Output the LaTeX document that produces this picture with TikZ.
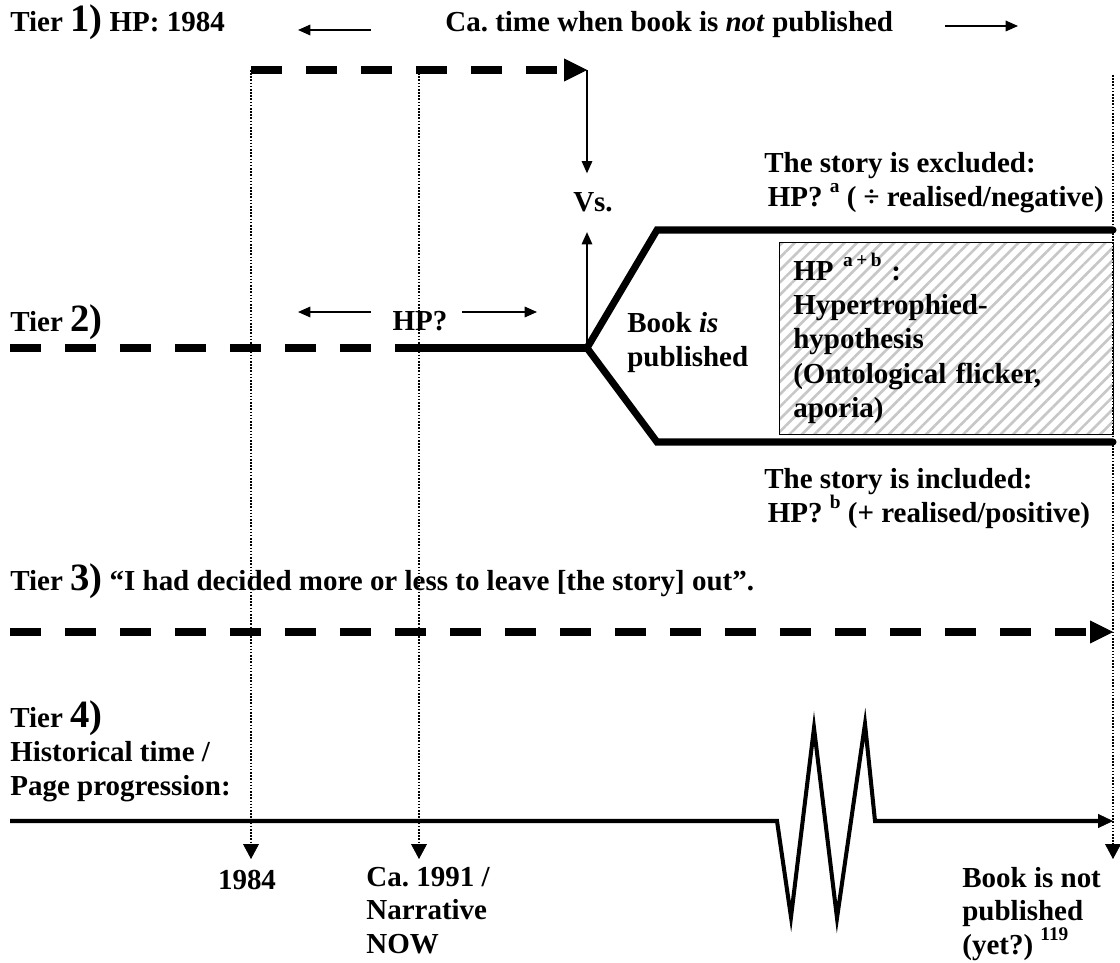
\documentclass[tikz,border=0pt]{standalone}
\usepackage{fontspec}
\setmainfont{Liberation Serif}
\usetikzlibrary{arrows.meta,patterns.meta}
\frenchspacing
\newcommand{\tiernum}[1]{{\fontsize{22}{22}\selectfont #1)}}
\newcommand{\supx}[1]{\raisebox{0.48em}{\fontsize{11}{11}\selectfont #1}}
\begin{document}
\begin{tikzpicture}[x=0.02cm, y=-0.02cm, >={Triangle[length=7pt,width=6pt]}, line join=miter,
	txt/.style={font=\fontsize{16.5}{19.5}\selectfont\bfseries, inner sep=0pt, align=left},
	low/.style={font=\fontsize{16.5}{19}\selectfont\bfseries},
	fine/.style={line width=0.9pt},
	dotline/.style={line width=1pt, dash pattern=on 0.9pt off 0.9pt, -{Triangle[length=8.5pt,width=9pt,line width=0.4pt]}},
	bigdash/.style={line width=4pt, dash pattern=on 17.6pt off 13.7pt},
	bighead/.style={-{Triangle[length=13pt,width=13pt,line width=0.4pt]}},
	branch/.style={line width=4pt, line cap=round},
	hatchbox/.style={draw, line width=0.8pt, pattern={Lines[angle=45,distance=5pt,line width=1.5pt]}, pattern color=black!22}]
	\useasboundingbox (0,0) rectangle (1120,963);
	% Tier 1
	\node[txt, anchor=base west] (t1) at (10,32) {Tier \tiernum{1} HP: 1984};
	\node[txt, anchor=base west] (notpub) at (445,32) {Ca. time when book is \textit{not} published};
	\coordinate (t1l) at (371,30); \coordinate (t1le) at (298,30);
	\coordinate (t1r) at (945,26); \coordinate (t1re) at (1018,26);
	\draw[fine,->] (t1l) -- (t1le);
	\draw[fine,->] (t1r) -- (t1re);
	\coordinate (a84) at (251,70); \coordinate (a91) at (419,70); \coordinate (avs) at (587,70);
	\draw[bigdash,bighead] (a84) -- (avs);
	\node[txt, anchor=base, inner ysep=11pt] (vs) at (593,212) {Vs.};
	\draw[fine,->] (avs) -- (avs |- vs.north);
	% Tier 2
	\node[txt, anchor=base west] (t2) at (10,331) {Tier \tiernum{2}};
	\node[txt, anchor=base] (hpq) at (420,330) {HP?};
	\coordinate (t2l) at (371,312); \coordinate (t2le) at (298,312);
	\coordinate (t2r) at (462,312); \coordinate (t2re) at (537,312);
	\draw[fine,->] (t2l) -- (t2le);
	\draw[fine,->] (t2r) -- (t2re);
	\coordinate (s2) at (10,348); \coordinate (n2) at (419,348); \coordinate (jn) at (587,348);
	\draw[bigdash] (s2) -- (n2);
	\draw[line width=4pt] (n2) -- (jn);
	\draw[fine,->] (jn) -- (jn |- vs.south);
	\coordinate (bu) at (657,230); \coordinate (bue) at (1113,230);
	\coordinate (bd) at (657,442); \coordinate (bde) at (1113,442);
	\draw[branch] (bue) -- (bu) -- (jn) -- (bd) -- (bde);
	\node[txt, anchor=north west] (pub) at (627,312) {Book \textit{is}\\published};
	\node[txt, hatchbox, anchor=north west, text width=6.12cm, inner xsep=0.28cm, minimum height=3.84cm] (hyp) at (778,241)
		{HP \supx{a\kern2pt+\kern2pt b} :\\Hypertrophied-\\hypothesis\\(Ontological flicker,\\aporia)};
	\node[txt, anchor=north west] (excl) at (764,152) {The story is excluded:\\\hspace{2pt}HP? \supx{a} ( ÷ realised/negative)};
	\node[txt, anchor=north west] (incl) at (764,468) {The story is included:\\\hspace{2pt}HP? \supx{b} (+ realised/positive)};
	% Tier 3
	\node[txt, anchor=base west] (t3) at (10,590) {Tier \tiernum{3} “I had decided more or less to leave [the story] out”.};
	\coordinate (s3) at (10,632); \coordinate (e3) at (1113,632);
	\draw[bigdash,bighead] (s3) -- (e3);
	% Tier 4
	\node[txt, anchor=north west] (t4) at (10,700) {Tier \tiernum{4}\\Historical time /\\Page progression:};
	\coordinate (s4) at (10,821); \coordinate (e4) at (1113,821);
	\coordinate (z1) at (777,821); \coordinate (z2) at (791,917); \coordinate (z3) at (814,728);
	\coordinate (z4) at (837,918); \coordinate (z5) at (865,724); \coordinate (z6) at (875,821);
	\draw[line width=2.3pt, -{Triangle[length=8.5pt,width=8pt,line width=0.4pt]}] (s4) -- (z1) -- (z2) -- (z3) -- (z4) -- (z5) -- (z6) -- (e4);
	\coordinate (d84) at (251,859); \coordinate (d91) at (419,859);
	\coordinate (dtop) at (1113,75); \coordinate (dend) at (1113,859);
	\draw[dotline] (a84) -- (d84);
	\draw[dotline] (a91) -- (d91);
	\draw[dotline] (dtop) -- (dend);
	\node[txt, anchor=base] (y84) at (247,889) {1984};
	\node[txt, low, anchor=north west] (y91) at (366,867) {Ca. 1991 /\\Narrative\\NOW};
	\node[txt, low, anchor=north west] (ynot) at (962,867) {Book is not\\published\\(yet?) \supx{119}};
\end{tikzpicture}
\end{document}
